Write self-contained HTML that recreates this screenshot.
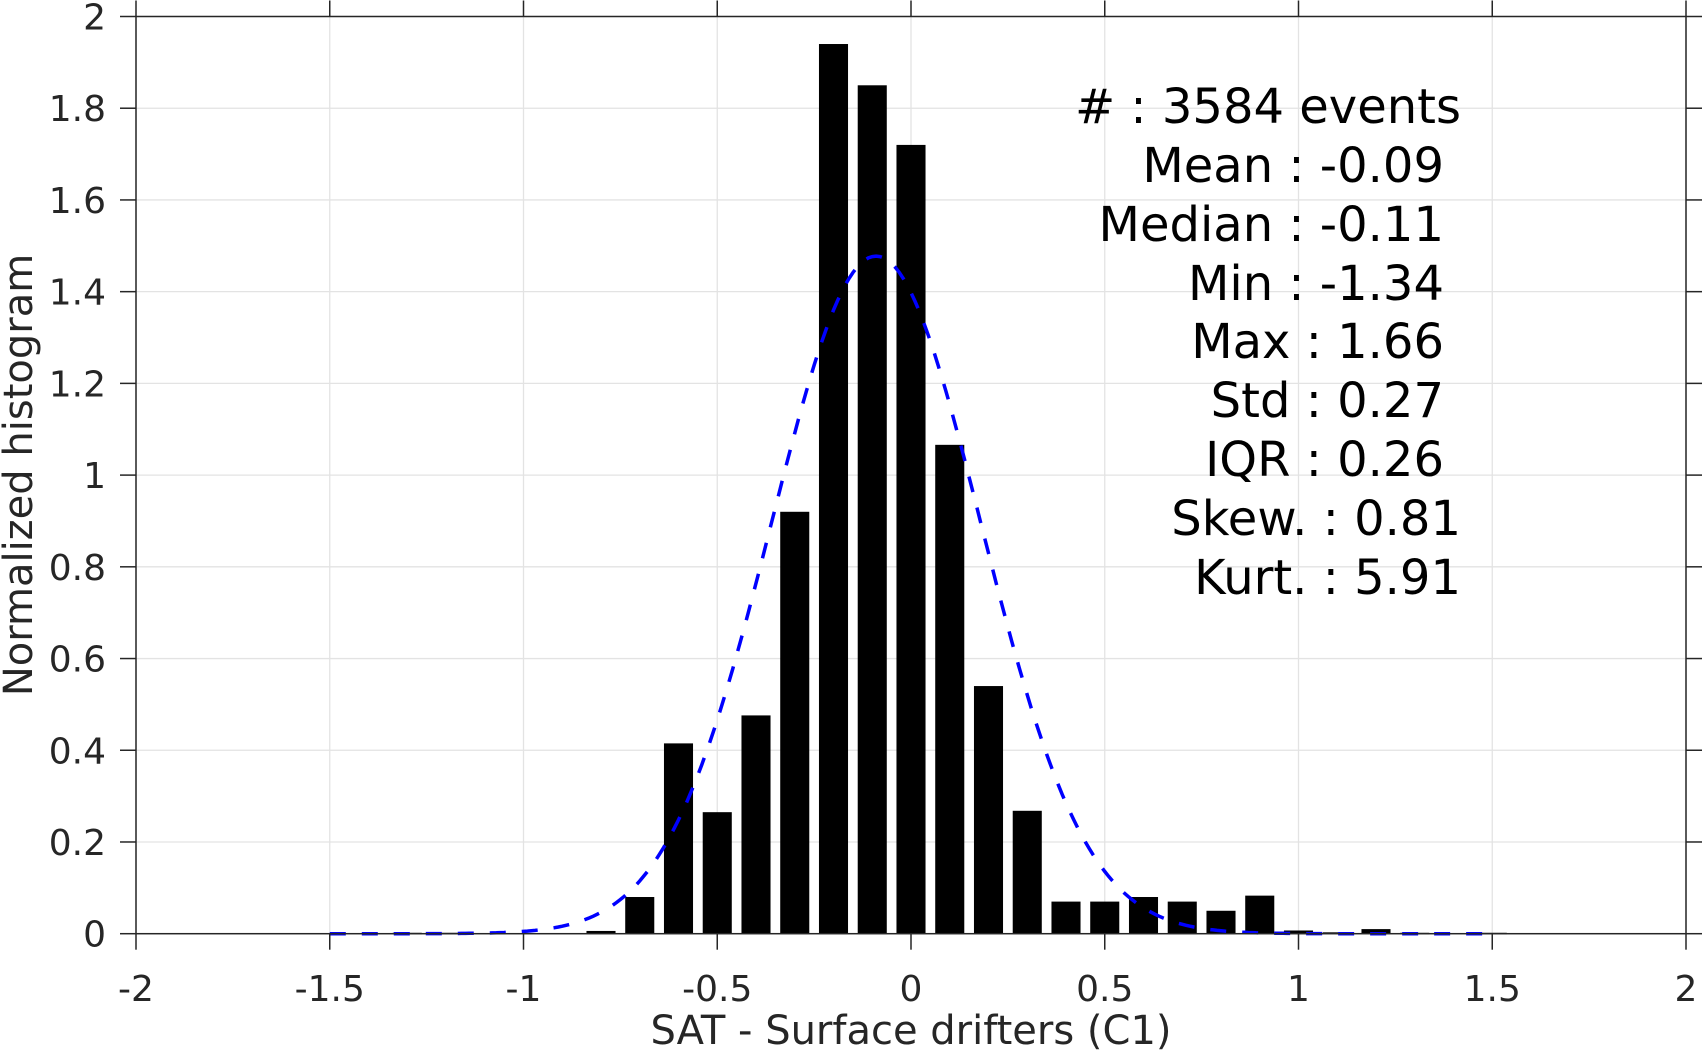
<!DOCTYPE html>
<html><head><meta charset="utf-8"><style>
html,body{margin:0;padding:0;background:#fff;}
svg{display:block;font-family:"DejaVu Sans","Liberation Sans",sans-serif;}
</style></head><body>
<svg id="chart" width="1703" height="1053" viewBox="0 0 1703 1053" xmlns="http://www.w3.org/2000/svg">
<g id="grid"></g>
<g id="bars"></g>
<g id="fit"></g>
<g id="axes"></g>
<g font-size="48" fill="#000" text-anchor="end">
<text x="1461" y="123">#  : 3584 events</text>
<text x="1444" y="182">Mean : -0.09</text>
<text x="1444" y="241">Median : -0.11</text>
<text x="1444" y="300">Min : -1.34</text>
<text x="1444" y="358">Max : 1.66</text>
<text x="1444" y="417">Std : 0.27</text>
<text x="1444" y="476">IQR : 0.26</text>
<text x="1461" y="535">Skew. : 0.81</text>
<text x="1461" y="594">Kurt. : 5.91</text>
</g>
<text x="911" y="1044" font-size="40" fill="#262626" text-anchor="middle">SAT - Surface drifters (C1)</text>
<text transform="translate(32,475) rotate(-90)" font-size="40" fill="#262626" text-anchor="middle">Normalized histogram</text>
</svg>
<script>
const binCenters = [-1.3,-1.2,-0.8,-0.7,-0.6,-0.5,-0.4,-0.3,-0.2,-0.1,0,0.1,0.2,0.3,0.4,0.5,0.6,0.7,0.8,0.9,1.0,1.1,1.2,1.3,1.5];
const binValues = [0.002,0.002,0.006,0.08,0.415,0.265,0.476,0.92,1.94,1.85,1.72,1.066,0.54,0.268,0.07,0.07,0.08,0.07,0.05,0.083,0.007,0.003,0.01,0.002,0.002];
const fitMean = [-0.09];
const fitStd = [0.27];
const xTicks = [-2,-1.5,-1,-0.5,0,0.5,1,1.5,2];
const xTickLabels = ["-2","-1.5","-1","-0.5","0","0.5","1","1.5","2"];
const yTicks = [0,0.2,0.4,0.6,0.8,1,1.2,1.4,1.6,1.8,2];
const yTickLabels = ["0","0.2","0.4","0.6","0.8","1","1.2","1.4","1.6","1.8","2"];

const L=136,R=1686,T=16.5,B=933.7;
const xs=v=>L+(v+2)/4*(R-L);
const ys=v=>B-v/2*(B-T);
const NS="http://www.w3.org/2000/svg";
function mk(tag,parent,attrs){const e=document.createElementNS(NS,tag);for(const k in attrs)e.setAttribute(k,attrs[k]);parent.appendChild(e);return e;}
const grid=document.getElementById('grid'),bars=document.getElementById('bars'),fit=document.getElementById('fit'),axes=document.getElementById('axes');
xTicks.forEach((t,i)=>{
 const g=mk('line',grid,{x1:xs(t),x2:xs(t),y1:T,y2:B,stroke:'#e3e3e3','stroke-width':1.3});
 
 
 [[B,B+16],[T,T-16]].forEach(p=>{const k=mk('line',axes,{x1:xs(t),x2:xs(t),y1:p[0],y2:p[1],stroke:'#262626','stroke-width':1.5});
 
 });
 const tx=mk('text',axes,{x:xs(t),y:1001,'font-size':36,fill:'#262626','text-anchor':'middle'});
 tx.textContent=xTickLabels[i];
 
 
});
yTicks.forEach((t,i)=>{
 const g=mk('line',grid,{x1:L,x2:R,y1:ys(t),y2:ys(t),stroke:'#e3e3e3','stroke-width':1.3});
 
 
 [[L,L-16],[R,R+16]].forEach(p=>{const k=mk('line',axes,{x1:p[0],x2:p[1],y1:ys(t),y2:ys(t),stroke:'#262626','stroke-width':1.5});
 
 });
 const tx=mk('text',axes,{x:106,y:ys(t)+13,'font-size':36,fill:'#262626','text-anchor':'end'});
 tx.textContent=yTickLabels[i];
 
 
});
const bw=0.075;
binCenters.forEach((c,i)=>{
 const y=ys(binValues[i]);
 const r=mk('rect',bars,{x:xs(c-bw/2),y:y,width:xs(c+bw/2)-xs(c-bw/2),height:Math.max(B-y,1.5),fill:'#000'});
 
 
});
let d='';
for(let i=0;i<=300;i++){const x=-1.5+i*0.01;const v=Math.exp(-0.5*Math.pow((x-fitMean[0])/fitStd[0],2))/(fitStd[0]*Math.sqrt(2*Math.PI));d+=(i?'L':'M')+xs(x).toFixed(1)+' '+ys(v).toFixed(1);}
const p=mk('path',fit,{d:d,fill:'none',stroke:'#0000ff','stroke-width':3.5,'stroke-dasharray':'16 16'});


const box=mk('rect',axes,{x:L,y:T,width:R-L,height:B-T,fill:'none',stroke:'#262626','stroke-width':1.5});


</script>
</body></html>
